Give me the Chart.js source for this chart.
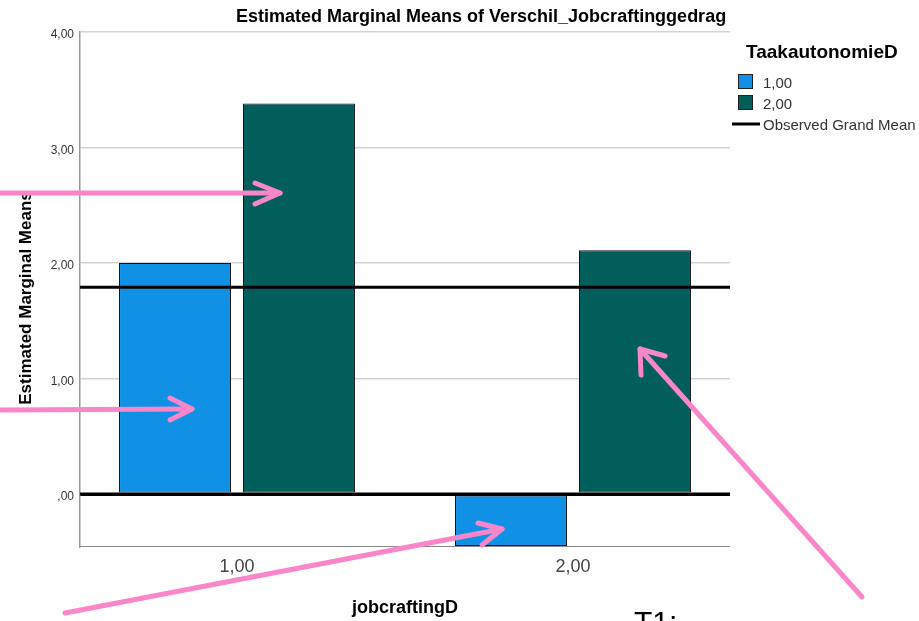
<!DOCTYPE html>
<html>
<head>
<meta charset="utf-8">
<script src="https://cdn.jsdelivr.net/npm/chart.js@4"></script>
<style>
  body { margin: 0; background: #fff; }
  canvas { display: block; }
</style>
</head>
<body>
<canvas id="emm" width="919" height="621"></canvas>
<script>
// data
const categories = ['1,00', '2,00'];
const groupLabels = ['1,00', '2,00'];
const taak1 = [2.00, -0.45];
const taak2 = [3.38, 2.11];
const grandMean = 1.79;
const yTicks = [0, 1, 2, 3, 4];

const FONT = 'Arial, "Liberation Sans", sans-serif';
const fmt = v => v === 0 ? ',00' : v.toFixed(2).replace('.', ',');

// title, legend, grand mean line and the pink annotations
const extras = {
    id: 'extras',
    afterLayout(chart) {
        // SPSS spreads the categories a bit wider than the frame
        const x = chart.scales.x;
        x.left = 69;
        x.right = 741;
        x.width = 672;
        x.configure();
    },
    afterDatasetsDraw(chart) {
        const { ctx, chartArea: a, scales: { y } } = chart;
        ctx.save();
        ctx.strokeStyle = '#000';
        ctx.lineWidth = 3;
        [0, grandMean].forEach(v => {
            const py = y.getPixelForValue(v);
            ctx.beginPath();
            ctx.moveTo(a.left, py);
            ctx.lineTo(a.right, py);
            ctx.stroke();
        });
        // bottom frame line
        ctx.strokeStyle = '#888';
        ctx.lineWidth = 1;
        ctx.beginPath();
        ctx.moveTo(a.left, a.bottom + 0.5);
        ctx.lineTo(a.right, a.bottom + 0.5);
        ctx.stroke();
        ctx.restore();
    },
    afterDraw(chart) {
        const ctx = chart.ctx;
        ctx.save();
        // title
        ctx.fillStyle = '#000';
        ctx.font = 'bold 18px ' + FONT;
        ctx.textBaseline = 'alphabetic';
        ctx.fillText('Estimated Marginal Means of Verschil_Jobcraftinggedrag', 236, 22);

        // y axis title
        ctx.save();
        ctx.translate(31, 298);
        ctx.rotate(-Math.PI / 2);
        ctx.textAlign = 'center';
        ctx.font = 'bold 17px ' + FONT;
        ctx.fillText('Estimated Marginal Means', 0, 0);
        ctx.restore();

        // legend
        ctx.font = 'bold 19px ' + FONT;
        ctx.fillText('TaakautonomieD', 746, 58);
        ctx.font = '15px ' + FONT;
        chart.data.datasets.forEach((ds, i) => {
            const top = 74 + i * 21;
            ctx.fillStyle = ds.backgroundColor;
            ctx.fillRect(738, top, 15, 15);
            ctx.strokeStyle = '#222';
            ctx.lineWidth = 1;
            ctx.strokeRect(738.5, top + 0.5, 14, 14);
            ctx.fillStyle = '#333';
            ctx.fillText(ds.label, 763, top + 14);
        });
        ctx.strokeStyle = '#000';
        ctx.lineWidth = 3;
        ctx.beginPath();
        ctx.moveTo(732, 124);
        ctx.lineTo(760, 124);
        ctx.stroke();
        ctx.fillStyle = '#333';
        ctx.fillText('Observed Grand Mean', 763, 130);

        // pink annotation arrows
        ctx.strokeStyle = '#f986c9';
        ctx.lineWidth = 5;
        ctx.lineCap = 'round';
        ctx.lineJoin = 'round';
        const arrows = [
            [[-5, 193], [280, 193], [[255, 183], [255, 204]]],
            [[-5, 410], [192, 409], [[170, 398], [170, 420]]],
            [[65, 613], [502, 529], [[478, 523], [482, 545]]],
            [[862, 597], [640, 349], [[641, 375], [665, 356]]]
        ];
        arrows.forEach(([s, e, head]) => {
            ctx.beginPath();
            ctx.moveTo(s[0], s[1]);
            ctx.lineTo(e[0], e[1]);
            ctx.stroke();
            ctx.beginPath();
            ctx.moveTo(head[0][0], head[0][1]);
            ctx.lineTo(e[0], e[1]);
            ctx.lineTo(head[1][0], head[1][1]);
            ctx.stroke();
        });

        ctx.fillStyle = '#000';
        ctx.font = '30px ' + FONT;
        ctx.fillText('T1:', 634, 632);
        ctx.restore();
    }
};

new Chart(document.getElementById('emm'), {
    type: 'bar',
    data: {
        labels: categories,
        datasets: [{
            label: groupLabels[0],
            data: taak1,
            backgroundColor: '#1191e6',
            borderColor: '#111',
            borderWidth: 1,
            borderSkipped: false
        },
        {
            label: groupLabels[1],
            data: taak2,
            backgroundColor: '#025e5b',
            borderColor: '#111',
            borderWidth: 1,
            borderSkipped: false
        }]
    },
    options: {
        responsive: false,
        animation: false,
        categoryPercentage: 0.738,
        barPercentage: 0.903,
        layout: {
            padding: { top: 32, right: 189, left: 0, bottom: 0 }
        },
        scales: {
            x: {
                grid: { display: false, drawTicks: false },
                border: { display: false },
                ticks: {
                    padding: 10,
                    color: '#444',
                    font: { family: FONT, size: 18 }
                },
                title: {
                    display: true,
                    text: 'jobcraftingD',
                    color: '#000',
                    font: { family: FONT, size: 18, weight: 'bold' },
                    padding: { top: 0, bottom: 2 }
                },
                afterFit: s => { s.height = 75; }
            },
            y: {
                min: -0.45,
                max: 4,
                afterBuildTicks: s => { s.ticks = yTicks.map(v => ({ value: v })); },
                grid: {
                    drawTicks: false,
                    color: c => c.tick && c.tick.value === 0 ? '#000' : '#d3d3d3',
                    lineWidth: c => c.tick && c.tick.value === 0 ? 3 : 1.5
                },
                border: { color: '#999', width: 1.5 },
                ticks: {
                    padding: 6,
                    labelOffset: 3,
                    color: '#333',
                    font: { family: FONT, size: 12 },
                    callback: v => fmt(v)
                },
                afterFit: s => { s.width = 80; }
            }
        },
        plugins: {
            legend: { display: false },
            tooltip: { enabled: false }
        }
    },
    plugins: [extras]
});
</script>
</body>
</html>
